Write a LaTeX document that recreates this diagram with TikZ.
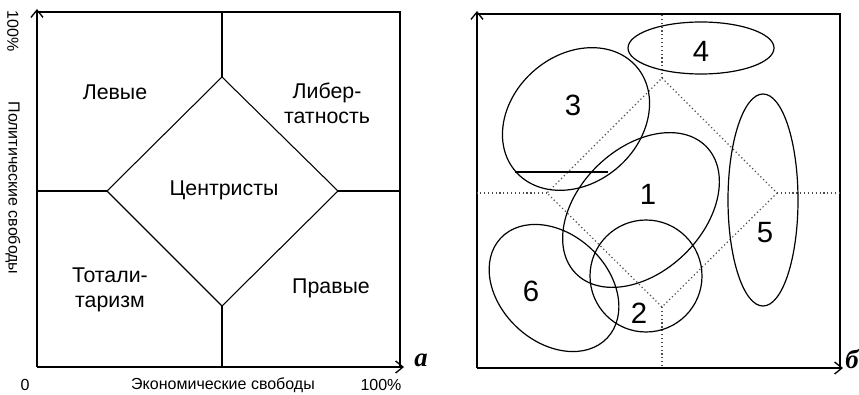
\documentclass[tikz,border=0pt]{standalone}
\usepackage{fontspec}
\setmainfont{Liberation Sans}
\newfontfamily\panelfont{Liberation Serif}
\usetikzlibrary{arrows.meta}

\begin{document}
\begin{tikzpicture}[
  x=0.75pt, y=-0.75pt,
  axis/.style={line width=1.5pt, -{Straight Barb[length=5.5pt, width=9pt, line width=1pt]}},
  frame/.style={line width=1.3pt},
  part/.style={line width=0.8pt},
  guide/.style={line width=0.9pt, dotted, black!70},
  blob/.style={line width=0.9pt},
  zone/.style={font=\fontsize{16}{19}\selectfont, align=center},
  num/.style={font=\fontsize{22}{24}\selectfont},
  small/.style={font=\fontsize{12}{14}\selectfont},
  tag/.style={font=\panelfont\bfseries\itshape\fontsize{20}{20}\selectfont}
]
\useasboundingbox (0,0) rectangle (859,395);

% panel a: axes and frame
\coordinate (oA) at (37,367);
\coordinate (xA) at (404,367);
\coordinate (yA) at (37,9);
\coordinate (tlA) at (37,12);
\coordinate (trA) at (400,12);
\coordinate (brA) at (400,367);
\draw[axis] (oA) -- (xA);
\draw[axis] (oA) -- (yA);
\draw[frame] (tlA) -- (trA) -- (brA);

% diamond with the four spokes
\coordinate (dtA) at (222,77);
\coordinate (drA) at (338,191);
\coordinate (dbA) at (222,306);
\coordinate (dlA) at (107,191);
\draw[part] (dtA) -- (drA) -- (dbA) -- (dlA) -- cycle;
\draw[part] (dtA) -- (222,12);
\draw[part] (dbA) -- (222,367);
\draw[part] (dlA) -- (37,191);
\draw[part] (drA) -- (400,191);

\node[zone] (left)   at (115,92)  {Левые};
\node[zone] (liber)  at (327,103) {Либер-\\татность};
\node[zone] (centre) at (224,190) {Центристы};
\node[zone] (total)  at (110,290) {Тотали-\\таризм};
\node[zone] (right)  at (331,288) {Правые};

\node[small] (zeroA)  at (25,385)  {0};
\node[small] (econ)   at (223,385) {Экономические свободы};
\node[small] (fullX)  at (381,385) {100\%};
\node[small, rotate=-90] (fullY) at (13,31)  {100\%};
\node[small, rotate=-90] (polit) at (13,188) {Политические свободы};
\node[tag] (tagA) at (421,360) {а};

% panel b: axes and frame
\coordinate (oB) at (477,368);
\coordinate (xB) at (843,368);
\coordinate (yB) at (477,11);
\coordinate (tlB) at (477,14);
\coordinate (trB) at (840,14);
\coordinate (brB) at (840,368);
\draw[axis] (oB) -- (xB);
\draw[axis] (oB) -- (yB);
\draw[frame] (tlB) -- (trB) -- (brB);

% dotted guide of panel a
\coordinate (dtB) at (662,78);
\coordinate (drB) at (777,193);
\coordinate (dbB) at (662,307);
\coordinate (dlB) at (547,193);
\draw[guide] (dtB) -- (drB) -- (dbB) -- (dlB) -- cycle;
\draw[guide] (dtB) -- (662,14);
\draw[guide] (dbB) -- (662,368);
\draw[guide] (dlB) -- (477,193);
\draw[guide] (drB) -- (840,193);

% groups
\draw[blob, rotate around={41:(576,119)}]  (576,119) ellipse [x radius=80, y radius=64];
\draw[blob, rotate around={44:(641,210)}]  (641,210) ellipse [x radius=91, y radius=62];
\draw[blob] (646,276) circle [radius=56];
\draw[blob] (701,48) ellipse [x radius=73, y radius=26];
\draw[blob] (763,200) ellipse [x radius=35, y radius=106];
\draw[blob, rotate around={-43:(554,288)}] (554,288) ellipse [x radius=73, y radius=54];
\draw[part] (515,172) -- (608,172);

\node[num] (g1) at (648,194) {1};
\node[num] (g2) at (639,313) {2};
\node[num] (g3) at (573,105) {3};
\node[num] (g4) at (701,51)  {4};
\node[num] (g5) at (765,233) {5};
\node[num] (g6) at (531,291) {6};
\node[tag] (tagB) at (852,359) {б};
\end{tikzpicture}
\end{document}
